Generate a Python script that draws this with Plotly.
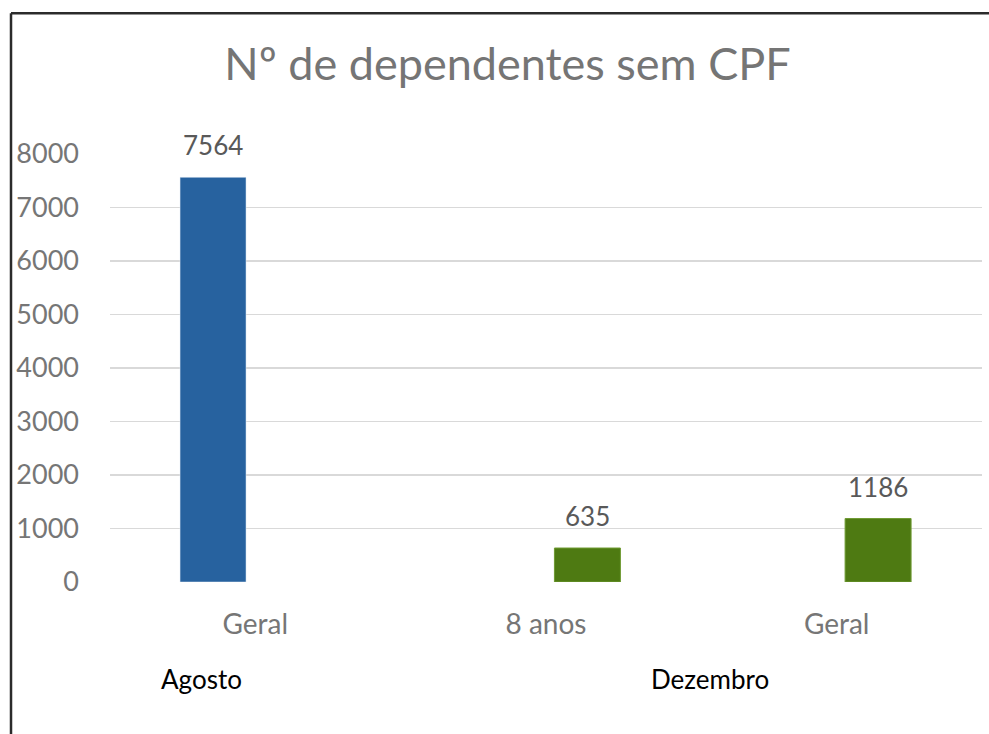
import plotly.graph_objects as go

title = "Nº de dependentes sem CPF"
categories = ["Geral", "8 anos", "Geral"]
agosto = [7564, None, None]
dezembro = [None, 635, 1186]
group_labels = ["Agosto", "Dezembro"]
y_ticks = [0, 1000, 2000, 3000, 4000, 5000, 6000, 7000, 8000]

W, H = 989, 734
L, R, T, B = 110, 7, 153.5, 151.5
pw, ph = W - L - R, H - T - B

def px_x(p):
    return (p - L) / pw

def px_y(p):
    return (H - B - p) / ph

xpos = list(range(len(categories)))
font = "Lato, 'Open Sans', sans-serif"

fig = go.Figure()
fig.add_trace(go.Bar(
    x=xpos, y=agosto, name=group_labels[0], marker_color="#27629F",
    width=0.227, offset=-0.259, hoverinfo="skip",
))
fig.add_trace(go.Bar(
    x=xpos, y=dezembro, name=group_labels[1], marker_color="#4E7A12",
    marker_line=dict(color="#6E9A32", width=1),
    width=0.227, offset=0.029, hoverinfo="skip",
))

annotations = []
for series, center_off in ((agosto, -0.259 + 0.1135), (dezembro, 0.029 + 0.1135)):
    for i, v in enumerate(series):
        if v is None:
            continue
        annotations.append(dict(
            x=i + center_off, y=v, xref="x", yref="y", text=str(v),
            showarrow=False, yanchor="bottom", yshift=14,
            font=dict(family=font, size=26, color="#595959"),
        ))

annotations.append(dict(x=px_x(201), y=px_y(680), xref="paper", yref="paper",
                        text=group_labels[0], showarrow=False,
                        xanchor="center", yanchor="middle",
                        font=dict(family=font, size=26, color="#000000")))
annotations.append(dict(x=px_x(709.5), y=px_y(680), xref="paper", yref="paper",
                        text=group_labels[1], showarrow=False,
                        xanchor="center", yanchor="middle",
                        font=dict(family=font, size=26, color="#000000")))

shapes = [
    dict(type="line", xref="paper", yref="paper", x0=px_x(11), x1=px_x(11),
         y0=px_y(740), y1=px_y(12.5), line=dict(color="#2b2b2b", width=2.5)),
    dict(type="line", xref="paper", yref="paper", x0=px_x(11), x1=px_x(989),
         y0=px_y(12.5), y1=px_y(12.5), line=dict(color="#2b2b2b", width=2.5)),
]

fig.update_layout(
    width=W, height=H,
    margin=dict(l=L, r=R, t=T, b=B, pad=0),
    paper_bgcolor="white", plot_bgcolor="white",
    barmode="overlay", showlegend=False,
    title=dict(text=title, x=507.5 / W, xanchor="center", y=1 - 64 / H,
               yanchor="middle",
               font=dict(family=font, size=45, color="#757575")),
    xaxis=dict(range=[-0.5, 2.5], tickmode="array", tickvals=xpos,
               ticktext=categories, showgrid=False, zeroline=False,
               showline=False, ticks="", ticklabelstandoff=23,
               tickfont=dict(family=font, size=28, color="#767676")),
    yaxis=dict(range=[0, 8000], tickmode="array", tickvals=y_ticks,
               showgrid=True, gridcolor="#D9D9D9", gridwidth=1.5,
               zeroline=False, showline=False, ticks="",
               ticklabelstandoff=30,
               tickfont=dict(family=font, size=27, color="#767676")),
    annotations=annotations, shapes=shapes,
)

fig.write_html("out.html",
               config={"displayModeBar": False, "staticPlot": True},
               post_script="document.body.style.margin='0px';document.body.style.overflow='hidden';")
